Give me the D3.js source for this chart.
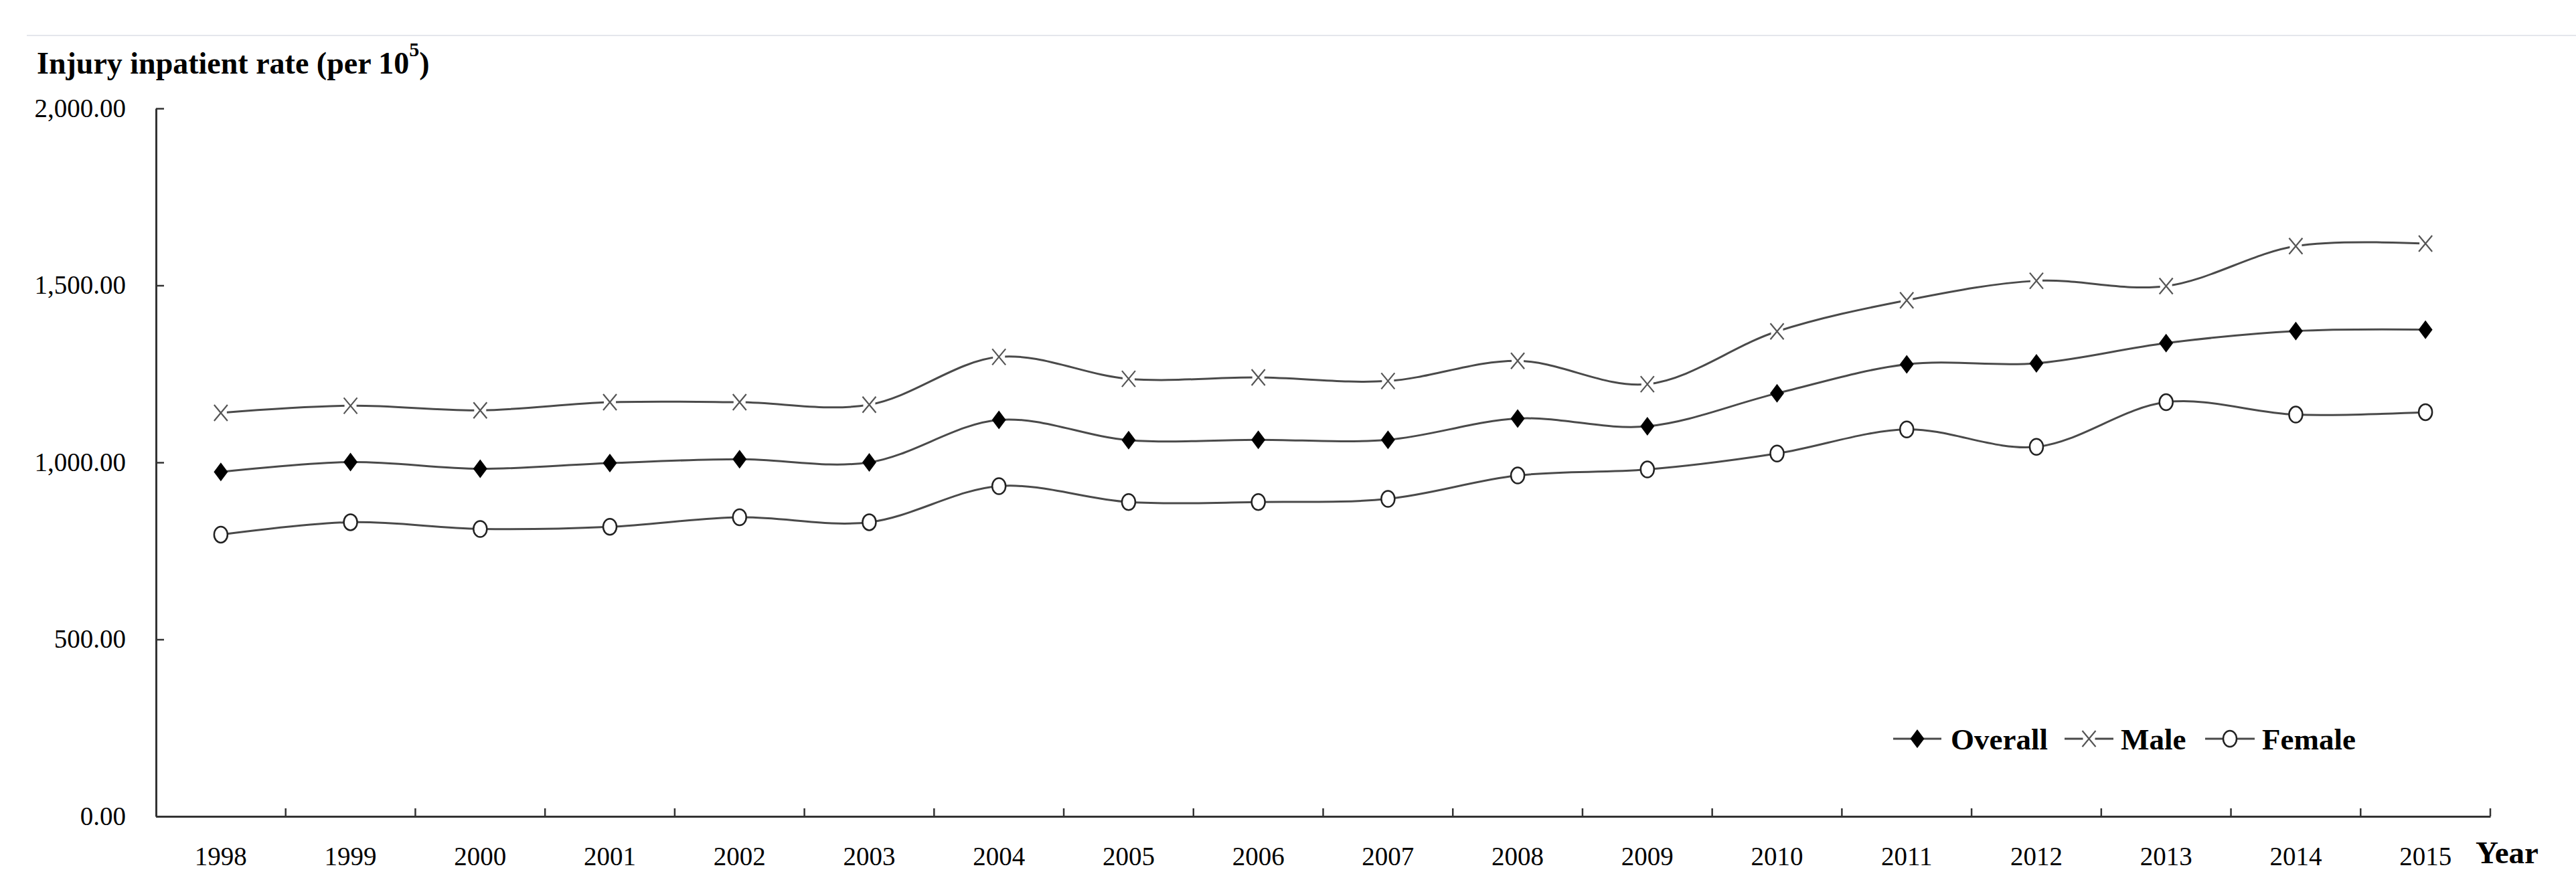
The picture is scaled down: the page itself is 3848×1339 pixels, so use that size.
<!DOCTYPE html>
<html>
<head>
<meta charset="utf-8">
<script src="https://cdn.jsdelivr.net/npm/d3@7"></script>
<style>
  html, body { margin: 0; padding: 0; background: #ffffff; }
  svg { display: block; }
  text { font-family: "Liberation Serif", "Times New Roman", serif; fill: #000; }
</style>
</head>
<body>
<svg id="chart" width="3848" height="1339"></svg>
<script>
// ---- data ----
const years = ["1998","1999","2000","2001","2002","2003","2004","2005","2006","2007","2008","2009","2010","2011","2012","2013","2014","2015"];
const overall = [973, 1001, 982, 998, 1009, 1000, 1120, 1063, 1064, 1064, 1124, 1102, 1195, 1277, 1280, 1337, 1371, 1375];
const male    = [1140, 1160, 1147, 1170, 1170, 1163, 1298, 1236, 1240, 1230, 1287, 1221, 1370, 1458, 1513, 1498, 1611, 1618];
const female  = [796, 831, 812, 818, 845, 831, 933, 888, 888, 897, 963, 980, 1025, 1093, 1044, 1170, 1135, 1142];
const yTicks  = [0, 500, 1000, 1500, 2000];
const seriesNames = ["Overall", "Male", "Female"];
const yTitle = "Injury inpatient rate (per 10";
const yTitleSup = "5";
const xTitle = "Year";

// ---- layout ----
const W = 3848, H = 1339;
const mLeft = 233, mRight = 3720, mTop = 162, mBottom = 1220;
const svg = d3.select("#chart");

svg.append("rect").attr("width", W).attr("height", H).attr("fill", "#fff");
// faint separator line at top
svg.append("line").attr("x1", 40).attr("x2", W).attr("y1", 53).attr("y2", 53)
  .attr("stroke", "#e4e6ec").attr("stroke-width", 2);

const x = d3.scaleBand().domain(years).range([mLeft, mRight]).padding(0);
const y = d3.scaleLinear().domain([0, 2000]).range([mBottom, mTop]);

const axisColor = "#333";

// y axis
const yAxis = svg.append("g").attr("transform", `translate(${mLeft},0)`)
  .call(d3.axisLeft(y).tickValues(yTicks).tickFormat(d3.format(",.2f")).tickSize(-12).tickPadding(45).tickSizeOuter(0));
yAxis.select(".domain").attr("stroke", axisColor).attr("stroke-width", 3);
yAxis.selectAll(".tick line").attr("stroke", axisColor).attr("stroke-width", 2.5);
yAxis.selectAll(".tick text").attr("font-family", "Liberation Serif, Times New Roman, serif")
  .attr("font-size", 39).attr("fill", "#000");

// x axis (labels at band centres)
const xAxis = svg.append("g").attr("transform", `translate(0,${mBottom})`)
  .call(d3.axisBottom(x).tickSize(0).tickPadding(45).tickSizeOuter(0));
xAxis.select(".domain").attr("stroke", axisColor).attr("stroke-width", 3);
xAxis.selectAll(".tick text").attr("font-family", "Liberation Serif, Times New Roman, serif")
  .attr("font-size", 39).attr("fill", "#000");

// x tick marks at band boundaries
const boundaries = years.map(d => x(d)).concat([x(years[years.length - 1]) + x.bandwidth()]).slice(1);
svg.append("g").selectAll("line").data(boundaries).join("line")
  .attr("x1", d => d).attr("x2", d => d)
  .attr("y1", mBottom).attr("y2", mBottom - 12)
  .attr("stroke", axisColor).attr("stroke-width", 2.5);

// titles
const t = svg.append("text").attr("x", 55).attr("y", 110)
  .attr("font-size", 46).attr("font-weight", "bold").text(yTitle);
t.append("tspan").attr("font-size", 30).attr("dy", -26).text(yTitleSup);
t.append("tspan").attr("dy", 26).text(")");

svg.append("text").attr("x", 3698).attr("y", 1290)
  .attr("font-size", 47).attr("font-weight", "bold").text(xTitle);

// ---- series ----
const cx = i => x(years[i]) + x.bandwidth() / 2;
const line = d3.line().x((d, i) => cx(i)).y(d => y(d)).curve(d3.curveCatmullRom.alpha(0.5));
const lineColor = "#4a4a4a";

[male, overall, female].forEach(vals => {
  svg.append("path").datum(vals).attr("d", line)
    .attr("fill", "none").attr("stroke", lineColor).attr("stroke-width", 3);
});

function drawDiamond(g, px, py) {
  g.append("path").attr("d", `M${px},${py - 14}L${px + 10.5},${py}L${px},${py + 14}L${px - 10.5},${py}Z`)
    .attr("fill", "#000");
}
function drawCross(g, px, py) {
  g.append("rect").attr("x", px - 9).attr("y", py - 11).attr("width", 18).attr("height", 22).attr("fill", "#fff");
  g.append("path").attr("d", `M${px - 10},${py - 12}L${px + 10},${py + 12}M${px + 10},${py - 12}L${px - 10},${py + 12}`)
    .attr("stroke", "#555").attr("stroke-width", 2.2).attr("fill", "none");
}
function drawCircle(g, px, py) {
  g.append("ellipse").attr("cx", px).attr("cy", py).attr("rx", 10).attr("ry", 12)
    .attr("fill", "#fff").attr("stroke", "#222").attr("stroke-width", 2.5);
}

const mk = svg.append("g");
male.forEach((v, i) => drawCross(mk, cx(i), y(v)));
overall.forEach((v, i) => drawDiamond(mk, cx(i), y(v)));
female.forEach((v, i) => drawCircle(mk, cx(i), y(v)));

// ---- legend ----
const lg = svg.append("g");
const legendItems = [
  { name: seriesNames[0], x0: 2828, x1: 2900, tx: 2914, draw: drawDiamond },
  { name: seriesNames[1], x0: 3084, x1: 3157, tx: 3168, draw: drawCross },
  { name: seriesNames[2], x0: 3294, x1: 3368, tx: 3379, draw: drawCircle }
];
const ly = 1104;
legendItems.forEach(it => {
  lg.append("line").attr("x1", it.x0).attr("x2", it.x1).attr("y1", ly).attr("y2", ly)
    .attr("stroke", lineColor).attr("stroke-width", 3);
  it.draw(lg, (it.x0 + it.x1) / 2, ly);
  lg.append("text").attr("x", it.tx).attr("y", ly + 16)
    .attr("font-size", 45).attr("font-weight", "bold").text(it.name);
});
</script>
</body>
</html>
